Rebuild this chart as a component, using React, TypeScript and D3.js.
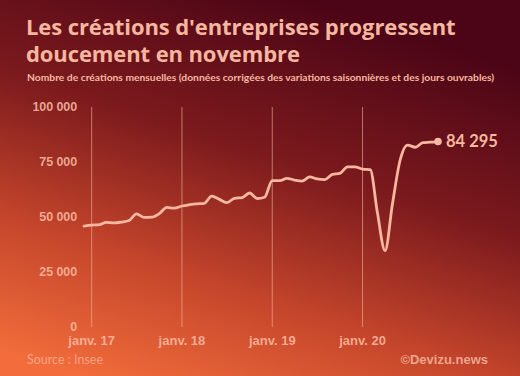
import React from "react";
import * as d3 from "d3";

const startYear = 2016;
const startMonth = 11; // December 2016 (0-based month)
const values = [
  45900, 46300, 46500, 47600, 47300, 47700, 48400, 51400, 49800, 49900, 51500, 54400,
  54000, 55000, 55600, 56000, 56200, 59500, 58000, 56500, 58500, 58800, 60900, 58400,
  59000, 66500, 66500, 67600, 66800, 66300, 68200, 67300, 67000, 69400, 69800, 72800,
  72800, 71800, 71500, 52000, 34700, 56000, 75900, 82700, 81700, 83800, 84000, 84295,
];
const yTicks = [0, 25000, 50000, 75000, 100000];
const xTickYears = [2017, 2018, 2019, 2020];
const xTickLabels = ["janv. 17", "janv. 18", "janv. 19", "janv. 20"];
const titleLines = ["Les créations d'entreprises progressent", "doucement en novembre"];
const subtitle = "Nombre de créations mensuelles (données corrigées des variations saisonnières et des jours ouvrables)";
const lastLabel = "84 295";

const W = 520;
const H = 376;
const pale = "#f6b7a0";

export default function App() {
  const dates = values.map((_, i) => new Date(startYear, startMonth + i, 1));
  const x = d3.scaleTime().domain([dates[0], dates[dates.length - 1]]).range([84, 438]);
  const y = d3.scaleLinear().domain([0, 100000]).range([327, 107]);
  const line = d3
    .line<number>()
    .x((_, i) => x(dates[i]))
    .y((d) => y(d))
    .curve(d3.curveMonotoneX);
  const fmt = (v: number) => d3.format(",")(v).replace(/,/g, " ");
  const lastX = x(dates[dates.length - 1]);
  const lastY = y(values[values.length - 1]);

  return (
    <svg width={W} height={H} style={{ position: "absolute", left: 0, top: 0 }}>
      <defs>
        <linearGradient id="bg" x1="0.15" y1="1" x2="0.6" y2="0">
          <stop offset="0" stopColor="#f26d3b" />
          <stop offset="0.3" stopColor="#c4452b" />
          <stop offset="0.62" stopColor="#7c1a1d" />
          <stop offset="1" stopColor="#4b0516" />
        </linearGradient>
      </defs>
      <rect width={W} height={H} fill="url(#bg)" />
      <g fontFamily="'Open Sans', Lato, sans-serif" fontWeight={700} fill={pale}>
        <text x={26} y={35} fontSize={22} letterSpacing={-0.1}>{titleLines[0]}</text>
        <text x={26} y={62} fontSize={22} letterSpacing={-0.1}>{titleLines[1]}</text>
      </g>
      <text x={27} y={81} fontFamily="Lato, sans-serif" fontWeight={700} fontSize={10.3} fill={pale}>{subtitle}</text>
      <g>
        {xTickYears.map((yr) => (
          <line
            key={yr}
            x1={x(new Date(yr, 0, 1))}
            x2={x(new Date(yr, 0, 1))}
            y1={y(100000)}
            y2={y(0)}
            stroke={pale}
            strokeOpacity={0.6}
            strokeWidth={1}
          />
        ))}
      </g>
      <g fontFamily="'Liberation Sans', Arial, sans-serif" fontWeight={700} fill={pale} fillOpacity={0.9}>
        {yTicks.map((t) => (
          <text key={t} x={77} y={y(t)} dy="0.35em" textAnchor="end" fontSize={12.5} letterSpacing={-0.1}>
            {fmt(t)}
          </text>
        ))}
        {xTickYears.map((yr, i) => (
          <text key={yr} x={x(new Date(yr, 0, 1))} y={345} textAnchor="middle" fontSize={13}>
            {xTickLabels[i]}
          </text>
        ))}
      </g>
      <path d={line(values) || ""} fill="none" stroke={pale} strokeWidth={2.8} strokeLinejoin="round" strokeLinecap="round" />
      <circle cx={lastX} cy={lastY} r={3.8} fill={pale} />
      <text x={lastX + 8} y={lastY} dy="0.35em" fontFamily="Lato, sans-serif" fontWeight={700} fontSize={16.5} fill={pale}>
        {lastLabel}
      </text>
      <text x={27} y={364} fontFamily="Lato, sans-serif" fontSize={12.5} fill={pale} fillOpacity={0.75}>
        Source : Insee
      </text>
      <text x={488} y={364} textAnchor="end" fontFamily="'Liberation Sans', Arial, sans-serif" fontWeight={700} fontSize={13} fill={pale} fillOpacity={0.85}>
        ©Devizu.news
      </text>
    </svg>
  );
}
